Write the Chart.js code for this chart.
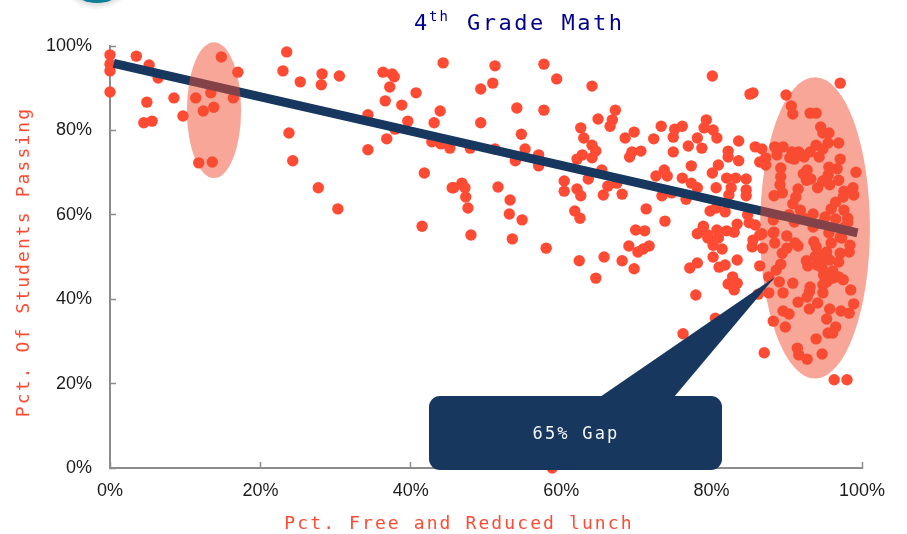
<!DOCTYPE html>
<html>
<head>
<meta charset="utf-8">
<style>
html,body{margin:0;padding:0;background:#fff;overflow:hidden}
#wrap{position:relative;width:907px;height:534px}
</style>
<script src="https://cdn.jsdelivr.net/npm/chart.js@4"></script>
</head>
<body>
<div id="wrap"><canvas id="c" width="907" height="534"></canvas></div>
<script>
const tickValues = [0, 20, 40, 60, 80, 100];
const xAxisTitle = 'Pct. Free and Reduced lunch';
const yAxisTitle = 'Pct. Of Students Passing';
const calloutText = '65% Gap';

const pctFreeLunch = [
0,0,0,0,3.5,5.2,6.4,4.9,4.5,5.6,8.5,9.7,11.4,12.4,13.4,13.8,16.4,14.8,17,11.8,13.6,
23.5,23,25.3,28.2,28.1,30.5,23.8,24.3,27.7,30.3,34.3,34.3,36.3,37.5,37.8,37.2,36.6,38.8,39.6,37.9,36.8,40.7,44.3,43.9,43.1,42.8,44,45.2,41.8,41.5,45.5,
51.2,49.3,50.9,57.7,59.4,64.1,54.1,57.7,67.2,49.3,54.7,64.9,66.8,66.5,62.6,63,68.5,69.7,73.3,76.1,75.1,74.9,72.3,78.1,64.1,64.6,64.1,62.8,62.1,69.4,69.1,70.6,74.9,76.9,78.7,55.2,57,53.9,57,51.2,47.9,65.4,63.6,60.4,77.3,73.7,72.6,74.1,76.1,77.3,78.1,67.4,66.2,65.6,68.1,73.4,74.7,76.6,60.4,62.1,62.6,46.8,47.2,45.7,47.3,47.6,51.6,53.2,53.1,54.8,48,53.5,58,61.8,62.5,71.3,73.8,69.9,71.1,78.1,78.9,69,71.7,70.9,70.2,65.7,62.4,68.1,69.7,64.6,77.1,78.1,77.9,
80.1,85.1,85.5,89.9,97.1,90.6,90.8,93.1,93.9,94.5,94.8,95.6,95.5,96.9,93.9,94.8,93.1,94.3,92.3,91.6,90.7,90.4,91,89.5,88.4,88.7,85.8,86.7,86.4,87.2,87.2,83.6,80.7,80.2,79,79.3,82.2,82.2,83.6,80.9,80.1,80.6,82,83.2,84.6,82.6,84.6,84.6,82.3,89.2,89.2,89.1,88.3,89.4,91.5,91.2,90.8,92.7,92.2,92.6,93.2,95.6,96.7,95.5,94.8,94.1,95.7,96.9,97.1,99.2,97.6,98.8,98.9,97.5,96.5,95.9,97.6,95.1,98.1,96.5,98.1,93.5,91.8,90.3,92.3,93.5,91,88.2,94.8,95.6,97.7,81.8,79.8,80.6,84.8,85,85.8,83.4,83,82,80.7,78.9,79.5,88.3,86.7,90,97.1,
79.5,80.2,81.4,80.9,86.4,85.4,85.5,86.8,88.2,88.4,89.4,90,91.1,91.5,93.6,93.9,95.9,98.4,98.3,97.1,97.3,95.3,94.4,93.8,92.6,92.8,94,94.8,95.7,96.9,94.7,96.1,94.9,95.3,96.1,96.9,97.5,94.8,94.8,98.5,93.1,93,92.7,90.8,89,87.6,88.6,89.2,86.4,83.4,81.8,81,80.2,82.8,82.2,83.4,83,86.2,87.6,89.5,91.5,94.1,98.9,93,95.7,97.2,98.3,89.5,90.3,95.3,88.2,89.8,96.5,95.5,96.1,93.9,91.4,91.6,92.7,94.7,87,96.3,98,80.5,76.2,58.8
];
const pctPassing = [
97.9,95.7,94.1,89.1,97.6,95.5,92.4,86.7,81.8,82.2,87.7,83.4,87.7,84.6,88.9,85.5,87.7,97.4,93.8,72.3,72.5,
98.6,94.1,91.5,93.4,90.8,92.9,79.4,72.8,66.4,61.4,83.7,75.4,93.8,93.4,92.7,90.3,87,86,82.2,80.3,78,88.9,96,84.6,81.8,77.3,76.8,75.8,69.9,57.3,66.4,
95.3,89.8,91.2,95.7,92.2,90.5,85.3,84.8,84.8,81.8,79.1,82.7,82.5,81,80.6,78.2,78.2,79.6,81,81,80.3,78.4,78,78.2,76.5,75.1,73.5,74.2,73.2,74.9,73.7,75.1,74.9,76.3,75.8,75.6,74.2,72.8,71.6,75.6,75.8,70.6,68.5,68,71.6,70.6,69.2,69.2,68.7,67.5,66.4,67.5,66.8,64.7,64.9,64.5,65.2,63.7,65.6,66.1,64.5,67.5,66.4,66.4,64.2,61.6,66.6,63.5,60.2,58.8,55.2,54.3,52.1,60.9,59.2,61.4,58.5,56.4,56.2,55.5,57.1,52.6,52.6,51.9,51.2,50,49.1,49.1,47.2,45,47.4,48.6,41,
92.9,88.6,88.9,88.4,91.2,85.8,83.9,84.1,84.1,80.8,79.4,79.4,77,77,76.5,75.6,74.9,73.7,73.7,74.9,74.9,73.5,73.2,76.1,76.1,74.2,76.1,75.6,72.5,73.5,71.8,77.5,78.2,80.1,80.6,82.5,75.1,73.7,72.8,71.8,69.9,66.4,68.7,68.7,68.5,66.4,65.9,64.5,64.7,71.1,69,67.1,64.5,65.2,66.1,64.2,62.6,70.6,69.7,68.2,68.5,71.3,70.9,69.4,68,66.4,67.1,68.2,73.2,70.1,65.6,66.4,64.7,64.2,63,61.4,61.1,59.5,59.2,59,58.1,60.2,61.1,60,59.2,57.1,58.3,58.8,58.1,55.7,57.1,60.7,60.9,61.6,60,58.1,57.6,57.8,55.9,56.2,56.4,57.3,55.2,55.9,55.5,55,54.7,
54.5,52.8,51.9,54.5,55.2,52.4,54,52.1,55.7,53.3,50.9,52.1,53.3,52.6,53.6,52.4,53.3,52.8,51.2,50.9,54.5,51.2,50.5,50.2,49.1,47.9,48.1,49.3,49.3,48.8,47.4,46.7,45.7,44.1,45,45.3,44.6,43.4,41.5,42.2,42.9,41.7,40.5,43.8,44.1,45.3,46.9,48.3,47.9,49.3,48.1,47.6,50,45.3,43.6,43.8,42.2,41.2,41.5,41.5,39.3,39.1,38.9,37.7,37.7,37.2,36.7,37.2,36.5,35.3,34.8,33.4,33.4,32,32,30.6,28.4,26.8,25.8,27,27.3,20.9,20.9,35.5,31.8,0
];
const trendX = [0.5, 99.4];
const trendY = [95.9, 55.7];
/* highlighted groups: centre and half-extent in axis units */
const ovalCentreX = [13.83, 93.75];
const ovalCentreY = [84.8, 56.9];
const ovalHalfX = [3.6, 7.3];
const ovalHalfY = [16.1, 35.7];

const RED = '#ff4b33';
const NAVY = '#17375e';
const MONO = '"DejaVu Sans Mono"';

function zip(a, b){ return a.map((v, i) => ({x: v, y: b[i]})); }

function fitScale(size, dx, dy){
  return function(s){
    if (s.isHorizontal()) s.height = size; else s.width = size;
    const base = Object.getPrototypeOf(s).drawTitle;
    s.drawTitle = function(){
      const ctx = s.ctx;
      ctx.save();
      ctx.translate(dx, dy);
      ctx.letterSpacing = '2.1px';
      base.call(s);
      ctx.restore();
    };
  };
}

function segment(ctx, text, x, y, font, spacing){
  ctx.font = font;
  ctx.letterSpacing = spacing;
  ctx.fillText(text, x, y);
}

const overlays = {
  id: 'overlays',
  beforeDraw(chart){
    const ctx = chart.ctx;
    ctx.save();
    // logo fragment at the page edge
    const g = ctx.createRadialGradient(97, -30, 24, 97, -30, 40);
    g.addColorStop(0, 'rgba(120,120,120,0.75)');
    g.addColorStop(1, 'rgba(160,160,160,0)');
    ctx.fillStyle = g;
    ctx.fillRect(50, 0, 100, 14);
    ctx.fillStyle = '#0f7f99';
    ctx.beginPath();
    ctx.ellipse(97, -9, 22, 12, 0, 0, Math.PI * 2);
    ctx.fill();
    // heading
    ctx.fillStyle = '#00008f';
    ctx.textAlign = 'left';
    ctx.textBaseline = 'alphabetic';
    segment(ctx, '4', 414, 30, '22px ' + MONO, '0px');
    segment(ctx, 'th', 429, 21, '14px ' + MONO, '2px');
    segment(ctx, 'Grade Math', 467, 30, '22px ' + MONO, '2.5px');
    ctx.restore();
  },
  afterDatasetsDraw(chart){
    const {ctx, scales} = chart;
    const sx = scales.x, sy = scales.y;
    ctx.save();
    // translucent ovals
    ctx.fillStyle = 'rgba(240,78,50,0.5)';
    ovalCentreX.forEach((cx, i) => {
      const px = sx.getPixelForValue(cx), py = sy.getPixelForValue(ovalCentreY[i]);
      const rx = Math.abs(sx.getPixelForValue(cx + ovalHalfX[i]) - px);
      const ry = Math.abs(sy.getPixelForValue(ovalCentreY[i] + ovalHalfY[i]) - py);
      ctx.beginPath();
      ctx.ellipse(px, py, rx, ry, 0, 0, Math.PI * 2);
      ctx.fill();
    });
    ctx.restore();
  },
  afterDraw(chart){
    const ctx = chart.ctx;
    ctx.save();
    // callout
    ctx.fillStyle = NAVY;
    ctx.beginPath();
    ctx.roundRect(429, 396, 293, 74, 11);
    ctx.fill();
    ctx.beginPath();
    ctx.moveTo(600, 397);
    ctx.lineTo(775, 277);
    ctx.lineTo(674, 397);
    ctx.closePath();
    ctx.fill();
    ctx.fillStyle = '#f4f6f9';
    ctx.textAlign = 'center';
    ctx.textBaseline = 'middle';
    segment(ctx, calloutText, 576, 435, '17px ' + MONO, '2.2px');
    ctx.restore();
  }
};

new Chart(document.getElementById('c'), {
  type: 'scatter',
  data: {
    datasets: [
      {
        label: 'Schools',
        data: zip(pctFreeLunch, pctPassing),
        backgroundColor: RED,
        borderWidth: 0,
        pointRadius: 5.7,
        clip: false,
        order: 2
      },
      {
        label: 'Trend',
        data: zip(trendX, trendY),
        showLine: true,
        borderColor: NAVY,
        borderWidth: 9,
        borderCapStyle: 'butt',
        pointRadius: 0,
        clip: false,
        order: 1
      }
    ]
  },
  plugins: [overlays],
  options: {
    responsive: false,
    animation: false,
    events: [],
    layout: {padding: {left: 0, top: 46, right: 45, bottom: 0}},
    plugins: {legend: {display: false}, tooltip: {enabled: false}},
    scales: {
      x: {
        type: 'linear',
        min: 0,
        max: 100,
        afterBuildTicks(s){ s.ticks = tickValues.map(v => ({value: v})); },
        afterFit: fitScale(66, -27, 1),
        border: {color: '#8c8c8c', width: 2},
        grid: {drawOnChartArea: false, tickLength: -6, tickColor: '#8c8c8c', tickWidth: 1.5},
        ticks: {
          color: '#1c1c1c',
          font: {family: '"Liberation Sans"', size: 18},
          padding: 18,
          maxRotation: 0,
          callback: v => v + '%'
        },
        title: {display: true, text: xAxisTitle, color: RED, font: {family: MONO, size: 18}, padding: {top: 0, bottom: 0}}
      },
      y: {
        type: 'linear',
        min: 0,
        max: 100,
        afterBuildTicks(s){ s.ticks = tickValues.map(v => ({value: v})); },
        afterFit: fitScale(110, 2, 5),
        border: {color: '#8c8c8c', width: 2},
        grid: {drawOnChartArea: false, tickLength: -6, tickColor: '#8c8c8c', tickWidth: 1.5},
        ticks: {
          color: '#1c1c1c',
          font: {family: '"Liberation Sans"', size: 18},
          padding: 24,
          callback: v => v + '%'
        },
        title: {display: true, text: yAxisTitle, color: RED, font: {family: MONO, size: 18}, padding: {top: 12, bottom: 0}}
      }
    }
  }
});
</script>
</body>
</html>
